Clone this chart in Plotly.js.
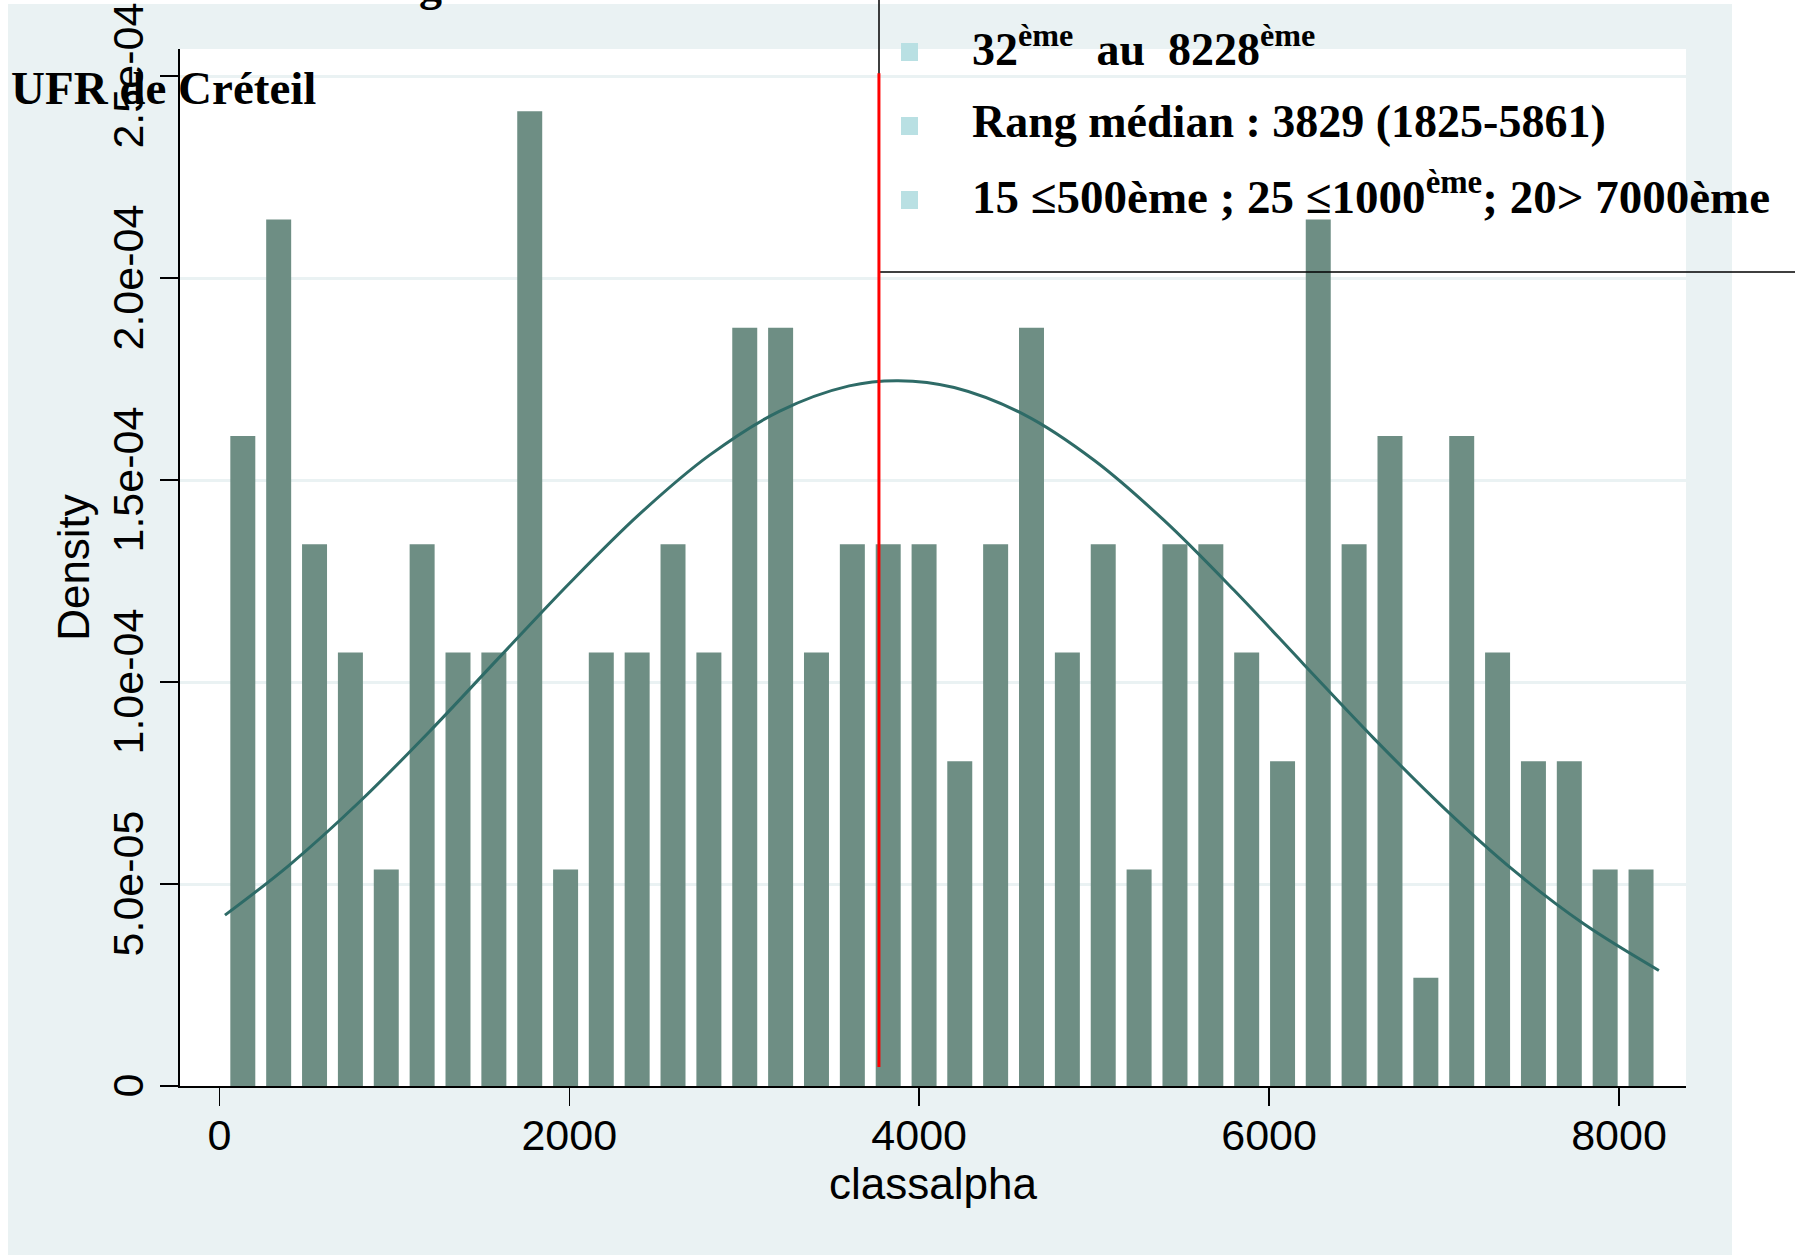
<!DOCTYPE html>
<html><head><meta charset="utf-8">
<script src="https://cdn.plot.ly/plotly-3.0.1.min.js"></script>
<style>html,body{margin:0;padding:0;background:#fff}</style>
</head><body><div id="chart" style="width:1795px;height:1255px"></div>
<script>
// ---- data ----
const binCenters = [134,339,544,749,954,1159,1364,1569,1774,1979,2183,2388,2593,2798,3003,3208,3413,3618,3823,4028,4232,4437,4642,4847,5052,5257,5462,5667,5872,6077,6281,6486,6691,6896,7101,7306,7511,7716,7921,8126];
const density = [1.609e-4,2.145e-4,1.341e-4,1.073e-4,5.36e-5,1.341e-4,1.073e-4,1.073e-4,2.413e-4,5.36e-5,
                 1.073e-4,1.073e-4,1.341e-4,1.073e-4,1.877e-4,1.877e-4,1.073e-4,1.341e-4,1.341e-4,1.341e-4,
                 8.04e-5,1.341e-4,1.877e-4,1.073e-4,1.341e-4,5.36e-5,1.341e-4,1.341e-4,1.073e-4,8.04e-5,
                 2.145e-4,1.341e-4,1.609e-4,2.68e-5,1.609e-4,1.073e-4,8.04e-5,8.04e-5,5.36e-5,5.36e-5];
const curveX = [32,400,800,1200,1600,2000,2400,2800,3200,3600,3880,4200,4600,5000,5400,5800,6200,6600,7000,7400,7800,8228];
const curveY = [4.23e-5,5.47e-5,7.03e-5,8.77e-5,1.061e-4,1.244e-4,1.415e-4,1.561e-4,1.670e-4,1.733e-4,1.746e-4,1.729e-4,1.662e-4,1.549e-4,1.400e-4,1.227e-4,1.043e-4,8.60e-5,6.88e-5,5.33e-5,4.01e-5,2.86e-5];
const xTickVals = [0,2000,4000,6000,8000];
const xTickText = ["0","2000","4000","6000","8000"];
const yTickVals = [0,5e-5,1e-4,1.5e-4,2e-4,2.5e-4];
const yTickText = ["0","5.0e-05","1.0e-04","1.5e-04","2.0e-04","2.5e-04"];
const medianLineX = 3770;
const medianLineY = [4.7e-6, 2.507e-4];
const xTitle = "classalpha";
const yTitle = "Density";
const boxTexts = [
  "<b>32<sup>ème</sup>\u00A0\u00A0au\u00A0\u00A08228<sup>ème</sup></b>",
  "<b>Rang médian : 3829 (1825-5861)</b>",
  "<b>15 ≤500ème ; 25 ≤1000<sup>ème</sup>; 20> 7000ème</b>"
];
const cornerText = "<b>UFR de Créteil</b>";
const cutTitle = "<b>g</b>";

// ---- layout geometry (pixels) ----
const W = 1795, H = 1255;
const L = 180, R = 1686, T = 49, B = 1086;
const px = x => (x - L) / (R - L);
const py = y => (B - y) / (B - T);

const BG = '#eaf2f3';
const serifFam = 'Liberation Serif, Times New Roman, serif';
const serif = {family: serifFam, size: 46, color: '#000'};
const sans = {family: 'Liberation Sans, Arial, sans-serif', size: 43, color: '#000'};

const traces = [
  {type: 'bar', x: binCenters, y: density, marker: {color: '#6e8e84', line: {width: 0}}, hoverinfo: 'skip', showlegend: false},
  {type: 'scatter', mode: 'lines', x: curveX, y: curveY, line: {color: '#2e6b67', width: 3, shape: 'spline', smoothing: 1}, hoverinfo: 'skip', showlegend: false}
];

const shapes = [
  {type: 'rect', xref: 'paper', yref: 'paper', x0: px(8), x1: px(1732), y0: py(1255), y1: py(4), fillcolor: BG, line: {width: 0}, layer: 'below'},
  {type: 'rect', xref: 'paper', yref: 'paper', x0: 0, x1: 1, y0: 0, y1: 1, fillcolor: '#ffffff', line: {width: 0}, layer: 'below'},
  {type: 'line', xref: 'paper', yref: 'paper', x0: px(162), x1: 0, y0: 0, y1: 0, line: {color: '#000', width: 2}},
  {type: 'rect', xref: 'paper', yref: 'paper', x0: px(879), x1: px(1830), y0: py(272), y1: py(-30), line: {color: '#000', width: 1.5}, fillcolor: 'rgba(0,0,0,0)'},
  {type: 'line', xref: 'x', yref: 'y', x0: medianLineX, x1: medianLineX, y0: medianLineY[0], y1: medianLineY[1], line: {color: '#ff0000', width: 3}}
];
[[43,61],[117,135],[191,209]].forEach(([a,b]) => {
  shapes.push({type: 'rect', xref: 'paper', yref: 'paper', x0: px(901), x1: px(918), y0: py(b), y1: py(a), fillcolor: '#b9e0e3', line: {width: 0}});
});

const annotations = [
  {text: boxTexts[0], xref: 'paper', yref: 'paper', x: px(970), y: py(46), xanchor: 'left', yanchor: 'middle', showarrow: false, font: serif},
  {text: boxTexts[1], xref: 'paper', yref: 'paper', x: px(970), y: py(121.5), xanchor: 'left', yanchor: 'middle', showarrow: false, font: serif},
  {text: boxTexts[2], xref: 'paper', yref: 'paper', x: px(970), y: py(193), xanchor: 'left', yanchor: 'middle', showarrow: false, font: {family: serifFam, size: 47, color: '#000'}},
  {text: cornerText, xref: 'paper', yref: 'paper', x: px(9), y: py(88), xanchor: 'left', yanchor: 'middle', showarrow: false, font: {family: serifFam, size: 47, color: '#000'}},
  {text: cutTitle, xref: 'paper', yref: 'paper', x: px(417), y: py(-15.5), xanchor: 'left', yanchor: 'middle', showarrow: false, font: serif}
];

const layout = {
  width: W, height: H, autosize: false,
  margin: {l: L, r: W - R, t: T, b: H - B, pad: 0},
  paper_bgcolor: '#ffffff', plot_bgcolor: '#ffffff',
  bargap: 0.3,
  showlegend: false,
  xaxis: {
    range: [-225, 8383], tickmode: 'array', tickvals: xTickVals, ticktext: xTickText,
    ticks: 'outside', ticklen: 18, tickwidth: 1.5, tickcolor: '#000', ticklabelstandoff: -8,
    showline: true, linecolor: '#000', linewidth: 2, showgrid: false, zeroline: false,
    tickfont: sans,
    title: {text: xTitle, font: {family: sans.family, size: 44, color: '#000'}, standoff: 0}
  },
  yaxis: {
    range: [0, 2.567e-4], tickmode: 'array', tickvals: yTickVals, ticktext: yTickText, tickangle: -90,
    ticks: 'outside', ticklen: 18, tickwidth: 1.5, tickcolor: '#000', ticklabeloverflow: 'allow', ticklabelshift: 6,
    showline: true, linecolor: '#000', linewidth: 2, showgrid: true, gridcolor: BG, gridwidth: 3, zeroline: false,
    tickfont: sans,
    title: {text: yTitle, font: {family: sans.family, size: 44, color: '#000'}, standoff: 0}
  },
  shapes: shapes,
  annotations: annotations
};

Plotly.newPlot('chart', traces, layout, {displayModeBar: false, staticPlot: true});
</script></body></html>
